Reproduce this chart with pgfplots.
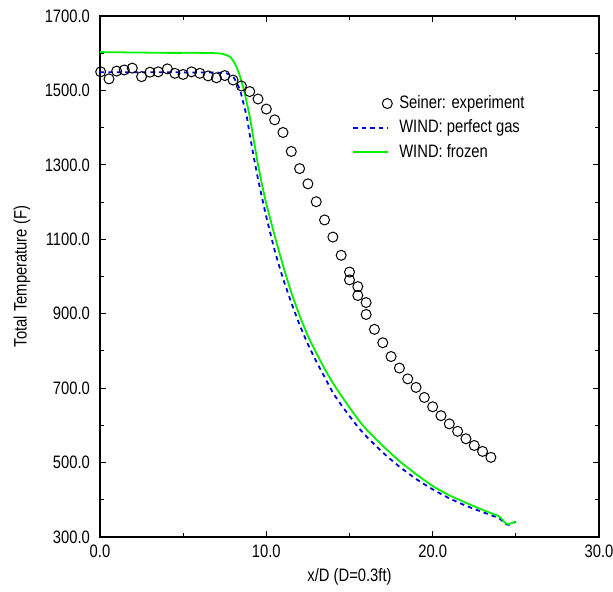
\documentclass[border=0pt]{standalone}
\usepackage{fontspec}
\setmainfont{Liberation Sans}[FakeStretch=0.82]
\usepackage{pgfplots}
\pgfplotsset{compat=1.18}
\definecolor{lgreen}{RGB}{0,240,0}
\definecolor{dblue}{RGB}{0,0,230}
\pgfplotsset{
  circlegend/.style={legend image code/.code={\draw[##1] plot coordinates {(17pt,0pt)};}},
  bluelegend/.style={legend image code/.code={\draw[dblue, line width=0.9pt, dash pattern=on 2.2pt off 2pt] (0pt,0pt) -- (17.5pt,0pt);}},
  greenlegend/.style={legend image code/.code={\draw[lgreen, line width=0.9pt] (0pt,0pt) -- (17.5pt,0pt);}},
}
\begin{document}
\begin{tikzpicture}
\useasboundingbox (-50pt,-27pt) rectangle (256.5pt,268.5pt);
\begin{axis}[
  at={(0,0)}, anchor=south west,
  scale only axis, width=249.5pt, height=260.5pt,
  xmin=0, xmax=30, ymin=300, ymax=1700,
  xtick={0,10,20,30}, ytick={300,500,...,1700},
  minor x tick num=1, minor y tick num=1,
  tick align=inside, tick pos=both,
  major tick length=3pt, minor tick length=1.8pt,
  axis line style={line width=0.6pt},
  every tick/.style={black, line width=0.5pt},
  /pgf/number format/fixed,
  /pgf/number format/fixed zerofill,
  /pgf/number format/precision=1,
  /pgf/number format/1000 sep={},
  /pgf/number format/assume math mode=true,
  font=\fontsize{9}{10.8}\selectfont,
  tick label style={font=\fontsize{9}{10.8}\selectfont},
  yticklabel style={xshift=-1.5pt},
  xticklabel style={yshift=-0.5pt},
  xlabel={x/D (D=0.3ft)}, ylabel={Total Temperature (F)},
  xlabel style={at={(axis description cs:0.5,0)}, anchor=center, yshift=-20pt},
  ylabel style={at={(axis description cs:0,0.5)}, anchor=center, xshift=0pt, yshift=39pt},
  legend style={at={(0.505,0.852)}, anchor=north west, draw=none, fill=none,
    inner sep=0pt, row sep=2.2pt, font=\fontsize{9}{10.8}\selectfont,
    nodes={inner xsep=3.5pt, inner ysep=1pt}},
  legend cell align=left,
]
\addplot[only marks, mark=o, mark size=2.5pt, mark options={black, line width=0.5pt}, circlegend]
coordinates {
(0.04,1550) (0.54,1531) (1.0,1552) (1.46,1555) (1.94,1560) (2.5,1537) (3.0,1549)
(3.5,1550) (4.05,1558) (4.5,1546) (5.0,1543) (5.5,1550) (6.0,1546) (6.5,1539)
(7.0,1534) (7.5,1540) (8.0,1528) (8.5,1512) (9.0,1497) (9.5,1477) (10.0,1450)
(10.5,1421) (11.0,1387) (11.5,1336) (12.0,1290) (12.5,1249) (13.0,1201) (13.5,1152)
(14.0,1106) (14.5,1057) (15.0,1012) (15.0,991) (15.5,973) (15.5,949) (16.0,930)
(16.0,898) (16.5,858) (17.0,822) (17.5,785) (18.0,754) (18.5,725) (19.0,702)
(19.5,675) (20.0,650) (20.5,626) (21.0,604) (21.5,584) (22.0,564) (22.5,546)
(23.0,530) (23.5,514)
};
\addlegendentry{Seiner: experiment}
\addplot[dblue, line width=0.9pt, dash pattern=on 2.2pt off 2pt, smooth, tension=0.3, bluelegend]
coordinates {
(0,1549) (2,1549) (4,1549) (6,1548) (7,1548) (7.6,1546) (8.0,1537) (8.2,1522)
(8.42,1501) (8.6,1470) (8.82,1430) (9.0,1382) (9.25,1320) (9.5,1262) (9.75,1210)
(10,1160) (10.5,1070) (11,995) (11.5,930) (12,870) (12.5,818) (13,772) (13.5,730)
(14,688) (14.5,655) (15,625) (15.5,596) (16,571) (17,527) (18,489) (19,456)
(20,428) (21,404) (22,384) (23,367) (24,350) (24.4,334) (24.6,333) (25,341)
};
\addlegendentry{WIND: perfect gas}
\addplot[lgreen, line width=0.9pt, smooth, tension=0.3, greenlegend]
coordinates {
(0,1603) (2,1602) (4,1601) (6,1601) (7,1600) (7.4,1598) (7.8,1591) (8.0,1580)
(8.2,1564) (8.4,1540) (8.6,1510) (8.8,1472) (9.0,1430) (9.25,1365) (9.5,1300)
(9.75,1245) (10.0,1195) (10.5,1110) (11,1030) (11.5,957) (12,895) (12.5,840)
(13,795) (13.5,752) (14,714) (14.5,680) (15,648) (15.5,617) (16,590) (17,545)
(18,504) (19,469) (20,437) (21,412) (22,392) (23,373) (24,355) (24.4,336)
(24.6,335) (25,342)
};
\addlegendentry{WIND: frozen}
\end{axis}
\end{tikzpicture}
\end{document}
